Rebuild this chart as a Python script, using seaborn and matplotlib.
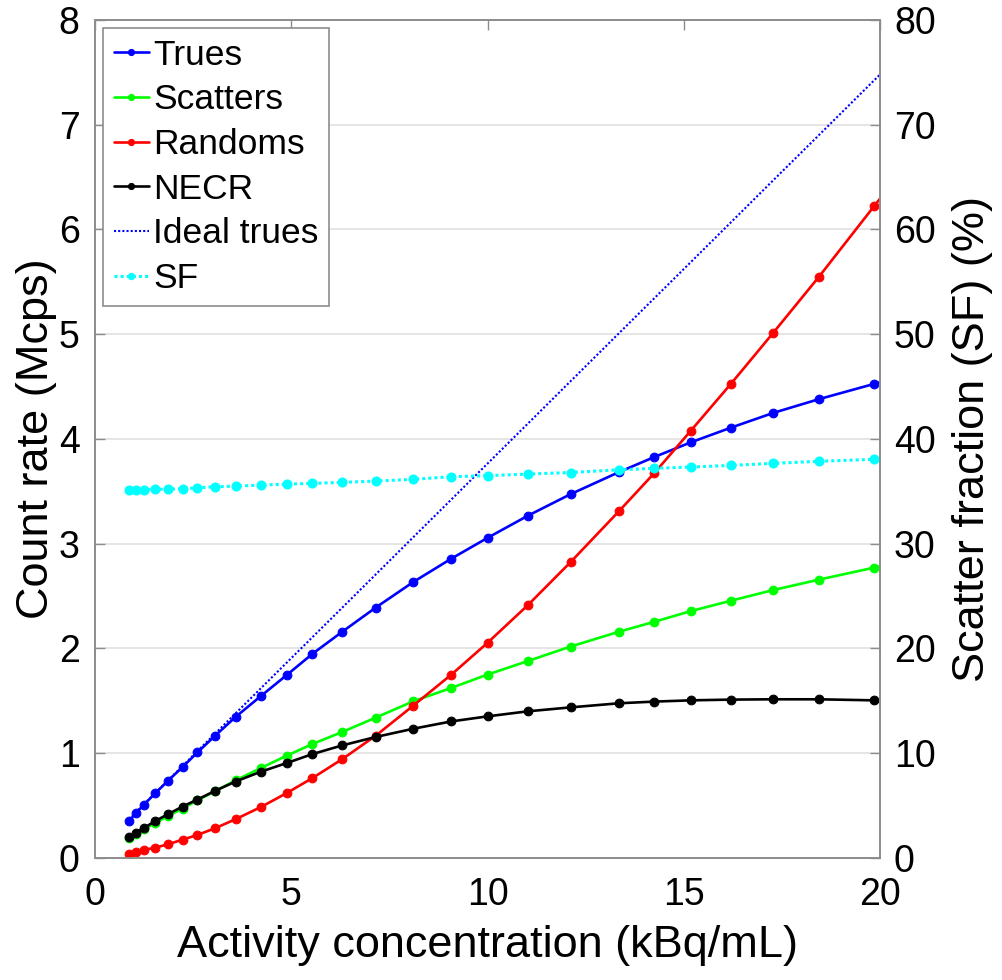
import numpy as np
import pandas as pd
import matplotlib
matplotlib.use("Agg")
import matplotlib.pyplot as plt
import seaborn as sns

# ── data (last point lies past x=20 and is clipped) ──
activity = [0.87, 1.04, 1.25, 1.54, 1.86, 2.23, 2.61, 3.06, 3.58, 4.22, 4.88,
            5.54, 6.30, 7.15, 8.11, 9.08, 10.0, 11.02, 12.12, 13.35, 14.25,
            15.18, 16.2, 17.28, 18.44, 19.85, 21.4]
trues = [0.354, 0.428, 0.51, 0.62, 0.737, 0.868, 1.008, 1.167, 1.346, 1.544,
         1.745, 1.949, 2.16, 2.39, 2.635, 2.858, 3.056, 3.266, 3.474, 3.684,
         3.828, 3.968, 4.108, 4.249, 4.38, 4.526, 4.68]
scatters = [0.19, 0.23, 0.275, 0.335, 0.40, 0.472, 0.55, 0.638, 0.74, 0.858,
            0.976, 1.088, 1.203, 1.34, 1.496, 1.624, 1.751, 1.879, 2.019, 2.16,
            2.255, 2.357, 2.456, 2.558, 2.657, 2.772, 2.90]
randoms = [0.038, 0.054, 0.077, 0.099, 0.131, 0.175, 0.22, 0.284, 0.37, 0.485,
           0.619, 0.763, 0.944, 1.167, 1.455, 1.751, 2.054, 2.411, 2.826, 3.311,
           3.675, 4.079, 4.526, 5.014, 5.547, 6.223, 6.96]
necr = [0.198, 0.242, 0.287, 0.354, 0.418, 0.491, 0.558, 0.641, 0.73, 0.823,
        0.906, 0.992, 1.075, 1.155, 1.234, 1.304, 1.352, 1.40, 1.438, 1.477,
        1.493, 1.505, 1.512, 1.515, 1.515, 1.505, 1.495]
ideal_trues = [0.373, 0.436, 0.514, 0.622, 0.741, 0.878, 1.02, 1.187, 1.38,
               1.618, 1.863, 2.108, 2.39, 2.706, 3.063, 3.423, 3.765, 4.144,
               4.553, 5.01, 5.344, 5.689, 6.068, 6.47, 6.90, 7.424, 8.0]
sf_pct = [35.1, 35.1, 35.15, 35.19, 35.22, 35.24, 35.34, 35.44, 35.5, 35.6,
          35.69, 35.76, 35.86, 35.98, 36.15, 36.4, 36.5, 36.65, 36.8, 37.06,
          37.2, 37.32, 37.48, 37.67, 37.87, 38.06, 38.25]

df = pd.DataFrame({"activity": activity, "Trues": trues, "Scatters": scatters,
                   "Randoms": randoms, "NECR": necr, "Ideal trues": ideal_trues,
                   "SF": sf_pct})

# ── style ─────────────────────────────────────────────────────────────────
sns.set_theme(style="white")
plt.rcParams["font.family"] = ["Liberation Sans", "DejaVu Sans"]
plt.rcParams["text.color"] = "black"
plt.rcParams["axes.labelcolor"] = "black"
SPINE = "#8c8c8c"
TICK_FS = 27
LABEL_FS = 32.5

fig = plt.figure(figsize=(10.03, 9.8), dpi=100)
ax = fig.add_axes([0.0947, 0.1245, 0.7827, 0.8551])
ax2 = ax.twinx()

solid = [("Trues", "#0000ff"), ("Scatters", "#00ff00"),
         ("Randoms", "#ff0000"), ("NECR", "#000000")]
for name, col in solid:
    sns.lineplot(data=df, x="activity", y=name, color=col, marker="o",
                 markersize=6.3, markeredgecolor=col, linewidth=1.9,
                 label=name, ax=ax, legend=False)

sns.lineplot(data=df, x="activity", y="Ideal trues", color="#0000ff",
             linestyle=(0, (1, 1)), linewidth=1.5, label="Ideal trues",
             ax=ax, legend=False)
sns.lineplot(data=df, x="activity", y="SF", color="#00ffff", marker="o",
             markersize=6.5, markeredgecolor="#00ffff",
             linestyle=(0, (1, 1)), linewidth=2.2, label="SF", ax=ax2,
             legend=False)

# ── axes ──────────────────────────────────────────────────────────────────
ax.set_xlim(0, 20)
ax.set_ylim(0, 8)
ax2.set_ylim(0, 80)
ax.set_xticks([0, 5, 10, 15, 20])
ax.set_yticks(range(0, 9))
ax2.set_yticks(range(0, 81, 10))
ax.yaxis.grid(True, color="#e3e3e3", linewidth=1.3)
ax.set_axisbelow(True)

ax.set_xlabel("Activity concentration (kBq/mL)", fontsize=LABEL_FS, labelpad=8)
ax.set_ylabel("Count rate (Mcps)", fontsize=LABEL_FS, labelpad=1)
ax2.set_ylabel("Scatter fraction (SF) (%)", fontsize=LABEL_FS, labelpad=12)

ax.tick_params(axis="x", direction="in", length=7, width=1, color=SPINE,
               labelcolor="black", labelsize=TICK_FS, pad=14, top=True)
ax.tick_params(axis="y", direction="in", length=7, width=1, color=SPINE,
               labelcolor="black", labelsize=TICK_FS, pad=11)
ax2.tick_params(axis="y", direction="in", length=7, width=1, color=SPINE,
                labelcolor="black", labelsize=TICK_FS, pad=10)
for a in (ax, ax2):
    for sp in a.spines.values():
        sp.set_color(SPINE)
        sp.set_linewidth(1.2)

# ── legend ────────────────────────────────────────────────────────────────
h1, l1 = ax.get_legend_handles_labels()
h2, l2 = ax2.get_legend_handles_labels()
leg = ax2.legend(h1 + h2, l1 + l2, loc="upper left",
                 bbox_to_anchor=(0.0102, 0.9905), borderaxespad=0,
                 fontsize=25.5, frameon=True, fancybox=False, framealpha=1,
                 edgecolor=SPINE, handlelength=1.0, handletextpad=0.12,
                 borderpad=0.3, labelspacing=0.33, markerscale=0.7)
leg.get_frame().set_linewidth(1.2)
for t in leg.get_texts():
    t.set_color("black")

plt.savefig("out.png", dpi=100)
plt.close()
